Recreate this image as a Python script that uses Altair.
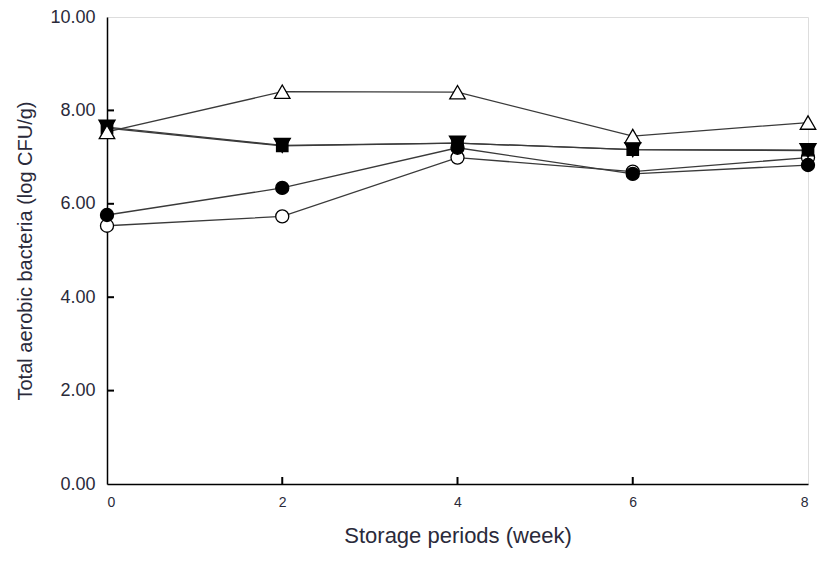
import altair as alt
import pandas as pd

weeks = [0, 2, 4, 6, 8]
open_circle = [5.53, 5.73, 6.99, 6.69, 6.99]
filled_circle = [5.76, 6.34, 7.20, 6.64, 6.83]
open_triangle = [7.54, 8.40, 8.39, 7.45, 7.74]
filled_down_triangle = [7.64, 7.25, 7.30, 7.16, 7.14]
filled_square = [7.62, 7.24, 7.30, 7.16, 7.15]

x_ticks = [0, 2, 4, 6, 8]
y_ticks = [0, 2, 4, 6, 8, 10]
x_inner_ticks = [2, 4, 6]
y_inner_ticks = [2, 4, 6, 8]

# drawn in this order (later on top): name, values, shape, fill, size
series = [
    ("open_circle", open_circle, "circle", "white", 170),
    ("square", filled_square, "square", "black", 130),
    ("down_triangle", filled_down_triangle, "triangle-down", "black", 260),
    ("filled_circle", filled_circle, "circle", "black", 170),
    ("open_triangle", open_triangle, "triangle-up", "white", 240),
]

FONT = "Liberation Sans"
TXT = "#2a2a3a"
W, H = 701, 467
xs = alt.Scale(domain=[0, 8], nice=False)
ys = alt.Scale(domain=[0, 10], nice=False)

x_axis = alt.Axis(values=x_ticks, title="Storage periods (week)", format="d",
                  grid=False, tickSize=0, domainColor="black", domainWidth=1.5,
                  labelFont=FONT, labelColor=TXT, labelFontSize=14, labelPadding=11,
                  titleFont=FONT, titleColor=TXT, titleFontSize=22, titleFontWeight="normal",
                  titlePadding=16)
y_axis = alt.Axis(values=y_ticks, title="Total aerobic bacteria (log CFU/g)", format=".2f",
                  grid=False, tickSize=0, domainColor="black", domainWidth=1.5,
                  labelFont=FONT, labelColor=TXT, labelFontSize=18, labelPadding=12,
                  titleFont=FONT, titleColor=TXT, titleFontSize=20, titleFontWeight="normal",
                  titlePadding=14)

line_layers = []
point_layers = []
for name, vals, shape, fill, size in series:
    d = pd.DataFrame({"week": weeks, "value": vals})
    line_layers.append(alt.Chart(d).mark_line(color="#3a3a3a", strokeWidth=1.3).encode(
        x=alt.X("week:Q", scale=xs, axis=x_axis),
        y=alt.Y("value:Q", scale=ys, axis=y_axis)))
    point_layers.append(alt.Chart(d).mark_point(
        shape=shape, fill=fill, filled=True, stroke="black", strokeWidth=1.3,
        size=size, opacity=1).encode(
        x=alt.X("week:Q", scale=xs, axis=x_axis),
        y=alt.Y("value:Q", scale=ys, axis=y_axis)))

# inward-pointing axis ticks drawn as short path symbols sitting on the axes
xt_df = pd.DataFrame({"tick": x_inner_ticks, "base": [0] * len(x_inner_ticks)})
yt_df = pd.DataFrame({"tick": y_inner_ticks, "base": [0] * len(y_inner_ticks)})

xt = alt.Chart(xt_df).mark_point(
    shape="M0,0L0,-1", size=196, filled=False, stroke="black", strokeWidth=2, opacity=1).encode(
    x=alt.X("tick:Q", scale=xs, axis=x_axis), y=alt.Y("base:Q", scale=ys, axis=y_axis))
yt = alt.Chart(yt_df).mark_point(
    shape="M0,0L1,0", size=196, filled=False, stroke="black", strokeWidth=2, opacity=1).encode(
    y=alt.Y("tick:Q", scale=ys, axis=y_axis), x=alt.X("base:Q", scale=xs, axis=x_axis))

chart = alt.layer(*line_layers, xt, yt, *point_layers).properties(
    width=W, height=H,
    autosize=alt.AutoSizeParams(type="none"),
    padding={"left": 99, "top": 9, "right": 11, "bottom": 72},
).configure_view(stroke="black", strokeWidth=1.5).configure(background="white")

chart.save("out.html", embed_options={"renderer": "svg", "actions": False})
